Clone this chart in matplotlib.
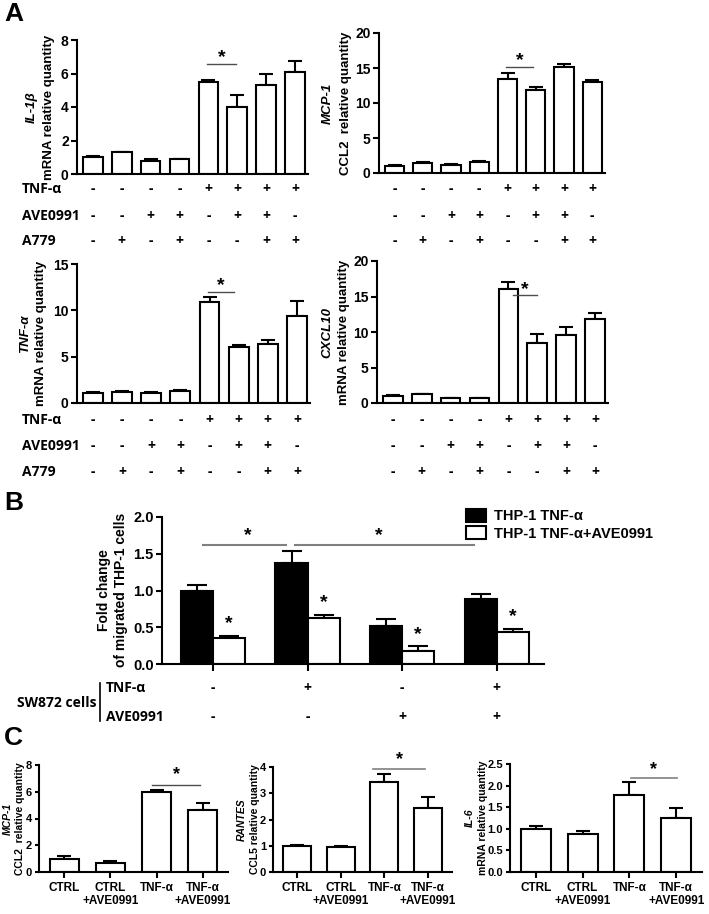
import matplotlib
matplotlib.use("Agg")
import matplotlib.pyplot as plt
import numpy as np
from matplotlib.lines import Line2D
from matplotlib.patches import Patch
from matplotlib.transforms import blended_transform_factory

plt.rcParams['font.family'] = ['Liberation Sans', 'DejaVu Sans']
plt.rcParams['font.weight'] = 'bold'

W, H = 709, 914

# ---- panel A data ----
il1b = [1.0, 1.3, 0.8, 0.88, 5.5, 3.98, 5.3, 6.1]
il1b_err = [0.05, 0.0, 0.1, 0.03, 0.1, 0.75, 0.7, 0.65]
mcp1 = [1.0, 1.5, 1.2, 1.6, 13.5, 11.8, 15.1, 13.05]
mcp1_err = [0.2, 0.1, 0.1, 0.15, 0.85, 0.55, 0.5, 0.2]
tnfa = [1.1, 1.2, 1.1, 1.3, 10.86, 6.07, 6.4, 9.4]
tnfa_err = [0.05, 0.1, 0.1, 0.05, 0.6, 0.2, 0.4, 1.6]
cxcl10 = [1.0, 1.2, 0.7, 0.65, 16.0, 8.5, 9.6, 11.8]
cxcl10_err = [0.1, 0.1, 0.05, 0.05, 1.0, 1.2, 1.05, 0.9]

row_names = ['TNF-α', 'AVE0991', 'A779']
row_tnf = ['-', '-', '-', '-', '+', '+', '+', '+']
row_ave = ['-', '-', '+', '+', '-', '+', '+', '-']
row_a779 = ['-', '+', '-', '+', '-', '-', '+', '+']

# ---- panel B data ----
b_groups = ['g1', 'g2', 'g3', 'g4']
b_tnf = [1.0, 1.38, 0.52, 0.88]
b_tnf_err = [0.07, 0.16, 0.09, 0.07]
b_ave = [0.35, 0.63, 0.18, 0.43]
b_ave_err = [0.035, 0.04, 0.06, 0.05]
sw_tnf = ['-', '+', '-', '+']
sw_ave = ['-', '-', '+', '+']

# ---- panel C data ----
c_labels = ['CTRL', 'CTRL\n+AVE0991', 'TNF-α', 'TNF-α\n+AVE0991']
c_mcp1 = [1.0, 0.7, 6.0, 4.6]
c_mcp1_err = [0.2, 0.1, 0.15, 0.55]
c_rantes = [1.0, 0.95, 3.42, 2.45]
c_rantes_err = [0.03, 0.05, 0.3, 0.42]
c_il6 = [1.0, 0.88, 1.79, 1.24]
c_il6_err = [0.07, 0.06, 0.3, 0.23]

fig = plt.figure(figsize=(W / 100, H / 100), dpi=100)


def px_axes(x0, ytop, x1, ybot):
    ax = fig.add_axes([x0 / W, 1 - ybot / H, (x1 - x0) / W, (ybot - ytop) / H])
    ax.spines['top'].set_visible(False)
    ax.spines['right'].set_visible(False)
    for s in ('left', 'bottom'):
        ax.spines[s].set_linewidth(1.5)
    ax.tick_params(width=1.5, length=4, pad=2, labelsize=10)
    return ax


def ftext(x, y, s, **kw):
    return fig.text(x / W, 1 - y / H, s, **kw)


def bars(ax, vals, err, width, color='white'):
    x = np.arange(len(vals))
    ax.errorbar(x, vals, yerr=[np.zeros(len(err)), err], fmt='none', ecolor='black',
                elinewidth=1.5, capsize=5, capthick=1.5, zorder=1)
    ax.bar(x, vals, width=width, color=color, edgecolor='black', linewidth=1.5, zorder=2)


def sig(ax, x0, x1, y, star_y, color='0.3', lw=1.0, fs=14):
    ax.plot([x0, x1], [y, y], color=color, lw=lw, clip_on=False, zorder=3)
    ax.text((x0 + x1) / 2, star_y, '*', ha='center', va='center', fontsize=fs,
            fontweight='bold', zorder=3)


def sign_rows(ax, rows_y, with_labels):
    tr = blended_transform_factory(ax.transData, fig.transFigure)
    for rows, y in zip([row_tnf, row_ave, row_a779], rows_y):
        for i, s in enumerate(rows):
            ax.text(i, 1 - y / H, s, transform=tr, ha='center', va='center',
                    fontsize=10, fontweight='bold', family=['Open Sans', 'DejaVu Sans'])
    if with_labels:
        for name, y in zip(row_names, rows_y):
            ftext(22, y, name, ha='left', va='center', fontsize=10,
                  fontweight='bold', family=['Open Sans', 'DejaVu Sans'])


def panel_a(box, vals, err, ymax, ystep, gene, label, lab_x, sig_args, rows_y, with_labels):
    ax = px_axes(*box)
    bars(ax, vals, err, 0.68)
    ax.set_xlim(-0.55, 7.45)
    ax.set_ylim(0, ymax)
    ax.set_yticks(np.arange(0, ymax + 0.01, ystep))
    ax.set_xticks([])
    sig(ax, *sig_args)
    yc = (box[1] + box[3]) / 2
    ftext(lab_x[0], yc, gene, rotation=90, ha='center', va='center', fontsize=9.5,
          fontweight='bold', style='italic')
    ftext(lab_x[1], yc, label, rotation=90, ha='center', va='center', fontsize=9.5,
          fontweight='bold')
    sign_rows(ax, rows_y, with_labels)
    return ax


panel_a((77, 40, 308, 174), il1b, il1b_err, 8, 2, 'IL-1β', 'mRNA relative quantity',
        (32, 49), (3.95, 4.95, 6.57, 6.95), (189, 216, 241), True)
panel_a((379, 33, 605, 173), mcp1, mcp1_err, 20, 5, 'MCP-1', 'CCL2  relative quantity',
        (328, 346), (3.95, 4.9, 15.1, 16.0), (189, 216, 241), False)
panel_a((77, 264, 310, 403), tnfa, tnfa_err, 15, 5, 'TNF-α', 'mRNA relative quantity',
        (25, 41), (3.95, 4.85, 12.0, 12.7), (420, 446, 472), True)
panel_a((377, 261, 608, 403), cxcl10, cxcl10_err, 20, 5, 'CXCL10', 'mRNA relative quantity',
        (327, 344), (4.15, 5.0, 15.2, 16.0), (420, 446, 472), False)

# ---- panel B ----
axb = px_axes(162, 517, 544, 664)
xb = np.arange(len(b_groups))
bw = 0.34
axb.errorbar(xb - bw / 2, b_tnf, yerr=[np.zeros(4), b_tnf_err], fmt='none', ecolor='black',
             elinewidth=1.5, capsize=7, capthick=1.5, zorder=1)
axb.bar(xb - bw / 2, b_tnf, width=bw, color='black', edgecolor='black', linewidth=1.5,
        zorder=2, label='THP-1 TNF-α')
axb.errorbar(xb + bw / 2, b_ave, yerr=[np.zeros(4), b_ave_err], fmt='none', ecolor='black',
             elinewidth=1.5, capsize=7, capthick=1.5, zorder=1)
axb.bar(xb + bw / 2, b_ave, width=bw, color='white', edgecolor='black', linewidth=1.5,
        zorder=2, label='THP-1 TNF-α+AVE0991')
for i in range(4):
    axb.text(xb[i] + bw / 2, b_ave[i] + b_ave_err[i] + 0.16, '*', ha='center', va='center',
             fontsize=14, fontweight='bold')
axb.set_xlim(-0.54, 3.5)
axb.set_ylim(0, 2)
axb.set_yticks([0, 0.5, 1.0, 1.5, 2.0])
axb.set_yticklabels(['0.0', '0.5', '1.0', '1.5', '2.0'], fontsize=10.5)
axb.set_xticks(xb)
axb.set_xticklabels([])
axb.tick_params(axis='x', length=5)
axb.plot([-0.11, 0.77], [1.62, 1.62], color='0.5', lw=1.5, clip_on=False)
axb.plot([0.87, 2.76], [1.62, 1.62], color='0.5', lw=1.5, clip_on=False)
axb.text(0.37, 1.75, '*', ha='center', va='center', fontsize=14, fontweight='bold')
axb.text(1.75, 1.75, '*', ha='center', va='center', fontsize=14, fontweight='bold')
ftext(104, 590, 'Fold change', rotation=90, ha='center', va='center', fontsize=10,
      fontweight='bold')
ftext(121, 590, 'of migrated THP-1 cells', rotation=90, ha='center', va='center',
      fontsize=10, fontweight='bold')

handles = [Patch(facecolor='black', edgecolor='black', lw=1.5, label='THP-1 TNF-α'),
           Patch(facecolor='white', edgecolor='black', lw=1.5, label='THP-1 TNF-α+AVE0991')]
fig.legend(handles=handles, loc='upper left', bbox_to_anchor=(460 / W, 1 - 503 / H),
           frameon=False, handlelength=1.4, handleheight=1.0,
           handletextpad=0.5, labelspacing=0.2, borderaxespad=0,
           prop={'weight': 'bold', 'size': 10.5})

trb = blended_transform_factory(axb.transData, fig.transFigure)
for signs, y in zip([sw_tnf, sw_ave], [688, 717]):
    for i, s in enumerate(signs):
        axb.text(xb[i], 1 - y / H, s, transform=trb, ha='center', va='center', fontsize=10,
                 fontweight='bold', family=['Open Sans', 'DejaVu Sans'])
ftext(57, 703, 'SW872 cells', ha='center', va='center', fontsize=10, fontweight='bold',
      family=['Open Sans', 'DejaVu Sans'])
ftext(106, 688, 'TNF-α', ha='left', va='center', fontsize=10, fontweight='bold',
      family=['Open Sans', 'DejaVu Sans'])
ftext(106, 717, 'AVE0991', ha='left', va='center', fontsize=10, fontweight='bold',
      family=['Open Sans', 'DejaVu Sans'])
fig.add_artist(Line2D([100 / W, 100 / W], [1 - 683 / H, 1 - 721 / H], color='black', lw=1.2))

# ---- panel C ----


def panel_c(box, vals, err, ymax, yticks, ytl, gene, label, lab_x, sig_args):
    ax = px_axes(*box)
    bars(ax, vals, err, 0.64)
    ax.set_xlim(-0.55, 3.55)
    ax.set_ylim(0, ymax)
    ax.set_yticks(yticks)
    ax.set_yticklabels(ytl, fontsize=8)
    ax.set_xticks(np.arange(4))
    ax.set_xticklabels(c_labels, fontsize=8.5, linespacing=1.15)
    ax.tick_params(axis='x', length=4, pad=3)
    ax.tick_params(axis='y', length=3, pad=2)
    sig(ax, *sig_args)
    yc = (box[1] + box[3]) / 2
    ftext(lab_x[0], yc, gene, rotation=90, ha='center', va='center', fontsize=7.5,
          fontweight='bold', style='italic')
    ftext(lab_x[1], yc, label, rotation=90, ha='center', va='center', fontsize=7.5,
          fontweight='bold')
    return ax


panel_c((39, 765, 228, 872), c_mcp1, c_mcp1_err, 8, [0, 2, 4, 6, 8],
        ['0', '2', '4', '6', '8'], 'MCP-1', 'CCL2  relative quantity', (8, 20),
        (1.9, 2.95, 6.5, 7.3, '0.3', 1.0, 13))
panel_c((273, 767, 452, 872), c_rantes, c_rantes_err, 4, [0, 1, 2, 3, 4],
        ['0', '1', '2', '3', '4'], 'RANTES', 'CCL5 relative quantity', (242, 255),
        (1.75, 2.93, 3.92, 4.3, '0.5', 1.2, 13))
panel_c((510, 764, 702, 872), c_il6, c_il6_err, 2.5, [0, 0.5, 1.0, 1.5, 2.0, 2.5],
        ['0.0', '0.5', '1.0', '1.5', '2.0', '2.5'], 'IL-6', 'mRNA relative quantity',
        (470, 483), (2.03, 3.02, 2.18, 2.38, '0.5', 1.2, 13))

# panel letters
ftext(4, 14, 'A', ha='left', va='center', fontsize=19, fontweight='bold')
ftext(4, 503, 'B', ha='left', va='center', fontsize=19, fontweight='bold')
ftext(4, 738, 'C', ha='left', va='center', fontsize=19, fontweight='bold')

fig.savefig('out.png', dpi=100)
